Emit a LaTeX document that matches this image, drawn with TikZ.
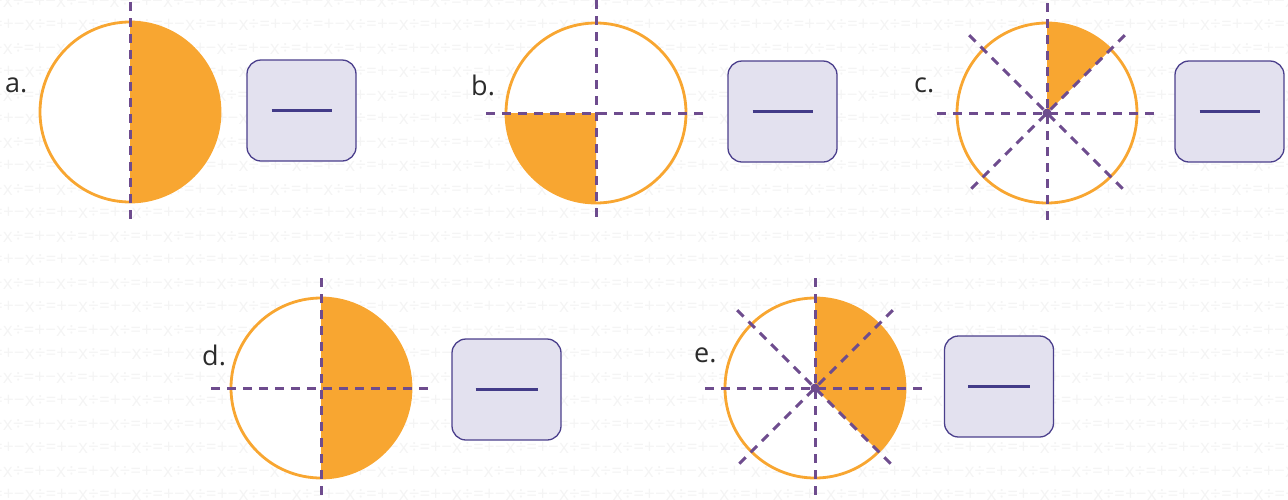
\documentclass[tikz,border=0pt]{standalone}
\usepackage{fontspec}
\setmainfont{Open Sans}
\definecolor{fracorange}{HTML}{F8A631}
\definecolor{fraclines}{HTML}{6E4C8E}
\definecolor{boxfill}{HTML}{E3E1EF}
\definecolor{boxedge}{HTML}{4B3F8C}
\definecolor{barpurple}{HTML}{433B88}
\definecolor{labelgray}{HTML}{2B2B2B}
\definecolor{patgray}{HTML}{F4F4F4}
\begin{document}
\begin{tikzpicture}[x=1pt, y=1pt,
  cutline/.style={draw=fraclines, line width=3pt, dash pattern=on 9pt off 7pt},
  rim/.style={draw=fracorange, line width=2.8pt},
  ansbox/.style={draw=boxedge, fill=boxfill, line width=1.3pt, rounded corners=14pt,
    minimum width=109pt, minimum height=101pt, inner sep=0pt},
  lbl/.style={font=\fontsize{27}{27}\selectfont, text=labelgray, anchor=west, inner sep=0pt},
  bar/.style={draw=barpurple, line width=3pt}]
  \useasboundingbox (0,0) rectangle (1288,-499);
  % background pattern
  \begin{scope}
    \clip (0,0) rectangle (1288,-499);
    \foreach \r in {0,...,21} {
      \pgfmathsetmacro{\shift}{mod(\r,2)*22}
      \node[anchor=west, inner sep=0pt, text=patgray, font=\fontsize{19}{19}\selectfont]
        (pat\r) at (-30+\shift,-1.5-23.5*\r) {\foreach \i in {1,...,27}{=+−x÷}};
    }
  \end{scope}
  \coordinate (ca) at (130,-112);
  \coordinate (cb) at (596,-113);
  \coordinate (cc) at (1047,-113);
  \coordinate (cd) at (321,-388);
  \coordinate (ce) at (815,-388);
  % a
  \fill[white] (ca) circle (90);
  \fill[fracorange] (ca) ++(90:90) arc[start angle=90, end angle=-90, radius=90] -- cycle;
  \draw[rim] (ca) circle (90);
  \draw[cutline] (ca) ++(0,110) -- ++(0,-220);
  \node[lbl] (la) at (5,-85) {a.};
  \node[ansbox] (boxa) at (301.5,-110.5) {};
  \draw[bar] ([xshift=-30pt]boxa.center) -- ([xshift=30pt]boxa.center);
  % b
  \fill[white] (cb) circle (90);
  \fill[fracorange] (cb) -- ++(180:90) arc[start angle=180, end angle=270, radius=90] -- cycle;
  \draw[rim] (cb) circle (90);
  \draw[cutline] (cb) ++(0,113) -- ++(0,-222);
  \draw[cutline] (cb) ++(-110,0) -- ++(220,0);
  \node[lbl] (lb) at (471,-85) {b.};
  \node[ansbox] (boxb) at (782.5,-111.5) {};
  \draw[bar] ([xshift=-30pt]boxb.center) -- ([xshift=30pt]boxb.center);
  % c
  \fill[white] (cc) circle (90);
  \fill[fracorange] (cc) -- ++(90:90) arc[start angle=90, end angle=45, radius=90] -- cycle;
  \draw[rim] (cc) circle (90);
  \draw[cutline] (cc) ++(0,110) -- ++(0,-220);
  \draw[cutline] (cc) ++(-110,0) -- ++(220,0);
  \draw[cutline] (cc) ++(45:110) -- ++(225:220);
  \draw[cutline] (cc) ++(135:110) -- ++(315:220);
  \fill[fraclines] (cc) circle (4.5);
  \node[lbl] (lc) at (914,-85) {c.};
  \node[ansbox] (boxc) at (1229.5,-111.5) {};
  \draw[bar] ([xshift=-30pt]boxc.center) -- ([xshift=30pt]boxc.center);
  % d
  \fill[white] (cd) circle (90);
  \fill[fracorange] (cd) ++(90:90) arc[start angle=90, end angle=-90, radius=90] -- cycle;
  \draw[rim] (cd) circle (90);
  \draw[cutline] (cd) ++(0,110) -- ++(0,-221);
  \draw[cutline] (cd) ++(-110,0) -- ++(220,0);
  \node[lbl] (ld) at (202,-355) {d.};
  \node[ansbox] (boxd) at (506.5,-389.5) {};
  \draw[bar] ([xshift=-31pt]boxd.center) -- ([xshift=31pt]boxd.center);
  % e
  \fill[white] (ce) circle (90);
  \fill[fracorange] (ce) -- ++(90:90) arc[start angle=90, end angle=-45, radius=90] -- cycle;
  \draw[rim] (ce) circle (90);
  \draw[cutline] (ce) ++(0,110) -- ++(0,-221);
  \draw[cutline] (ce) ++(-110,0) -- ++(220,0);
  \draw[cutline] (ce) ++(45:110) -- ++(225:220);
  \draw[cutline] (ce) ++(135:110) -- ++(315:220);
  \fill[fraclines] (ce) circle (4.5);
  \node[lbl] (le) at (694,-355) {e.};
  \node[ansbox] (boxe) at (999,-386.5) {};
  \draw[bar] ([xshift=-31pt]boxe.center) -- ([xshift=31pt]boxe.center);
\end{tikzpicture}
\end{document}
